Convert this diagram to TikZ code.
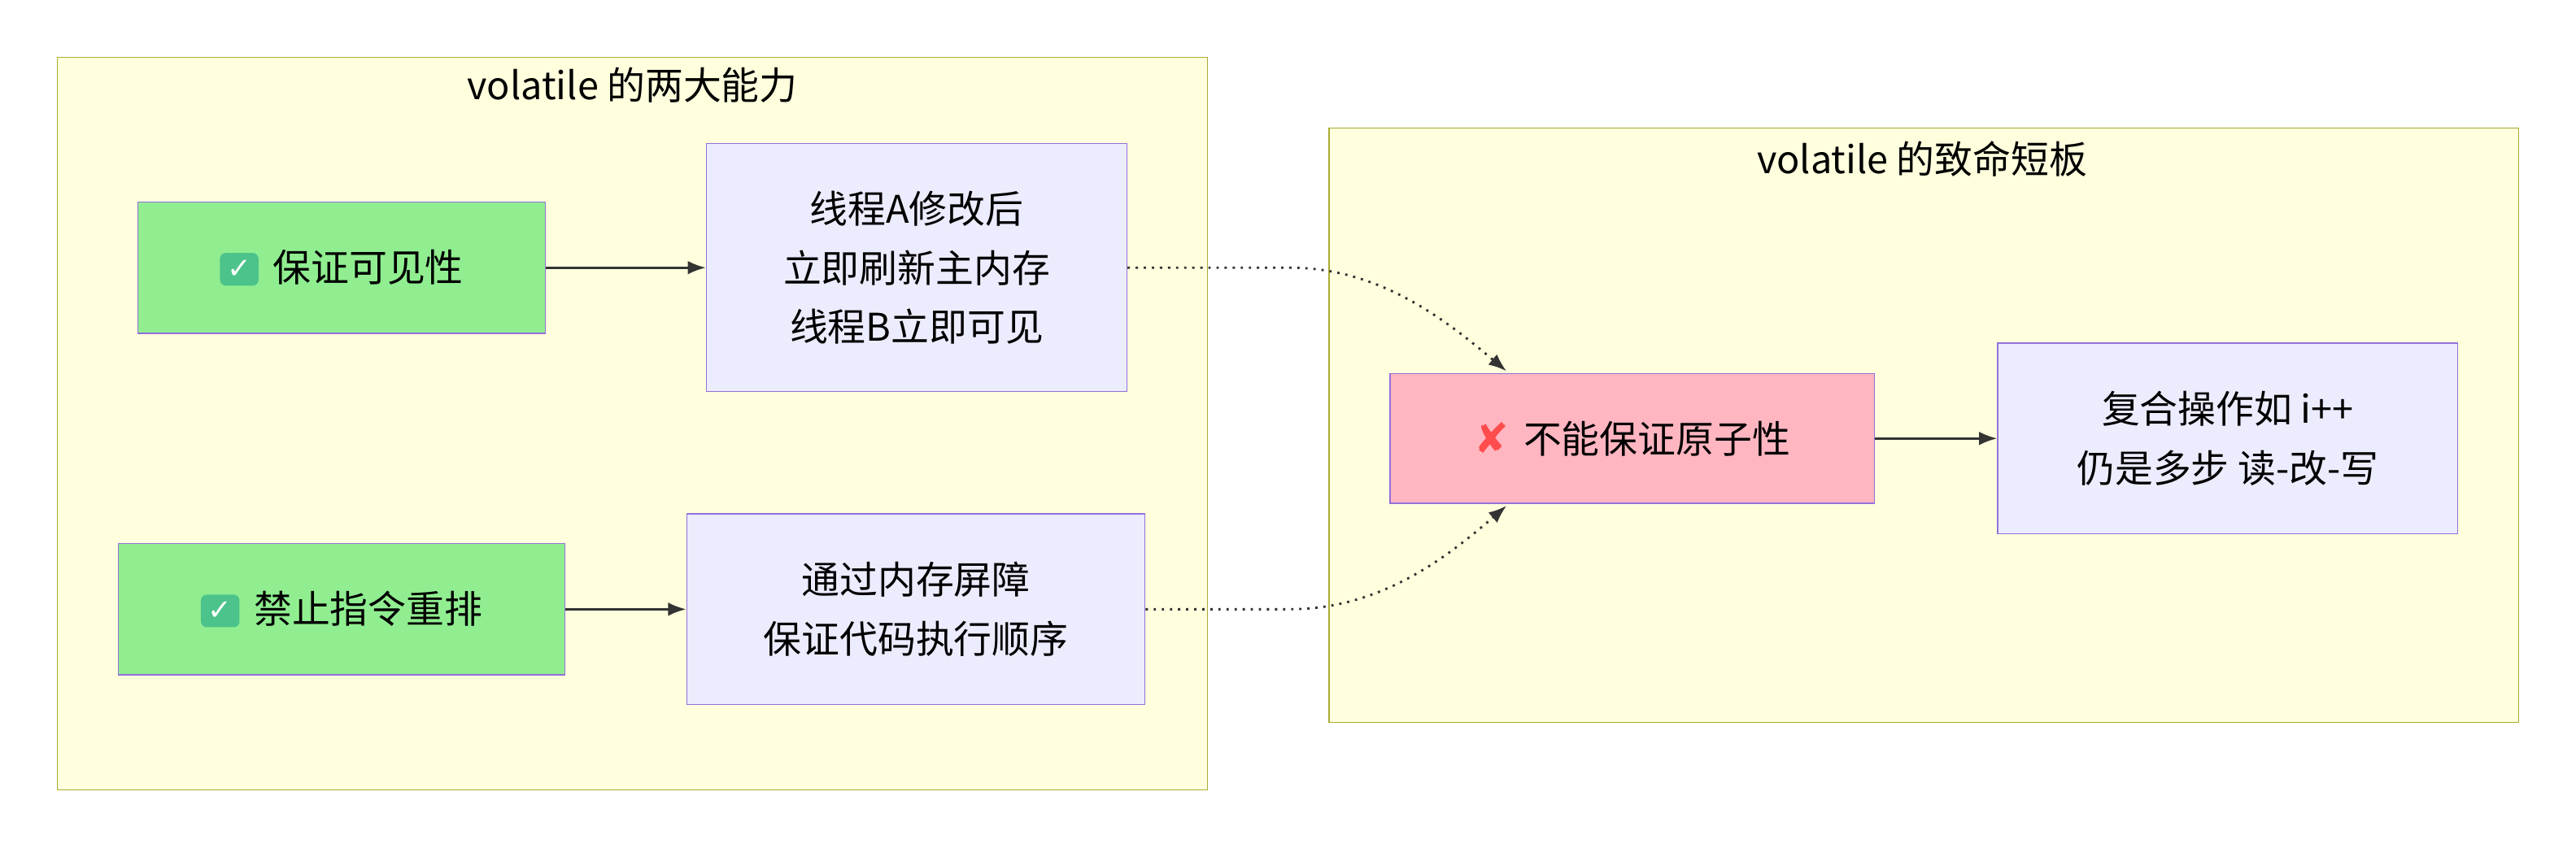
\documentclass[tikz,border=0pt]{standalone}
\usepackage{fontspec}
\setmainfont{Noto Sans CJK SC}
\newfontfamily\symfont{DejaVu Sans}
\usetikzlibrary{arrows.meta}
\definecolor{clusterfill}{HTML}{FFFFDE}
\definecolor{clusterline}{HTML}{AAAA33}
\definecolor{nodeline}{HTML}{9370DB}
\definecolor{nodefill}{HTML}{ECECFF}
\definecolor{okfill}{HTML}{90EE90}
\definecolor{badfill}{HTML}{FFB6C1}
\definecolor{linkcol}{HTML}{333333}
\definecolor{okmarkfill}{HTML}{4CC38A}
\newcommand{\okmark}{\tikz[baseline=-0.6ex]\node[fill=okmarkfill, draw=none, rounded corners=2pt, text=white, inner sep=2.5pt, minimum width=0pt, minimum height=0pt, font=\symfont\normalsize]{✓};\hspace{5pt}}
\newcommand{\badmark}{{\symfont\Large\color{red!70}✘}\hspace{5pt}}
\begin{document}
\begin{tikzpicture}[x=0.02cm, y=-0.02cm, font=\fontsize{13.2}{20.5}\selectfont]
	\tikzstyle{cluster} = [draw=clusterline, fill=clusterfill, thin];
	\tikzstyle{box} = [draw=nodeline, fill=nodefill, thin, align=center, inner sep=0pt];
	\tikzstyle{link} = [-{Latex[length=2.2mm]}, linkcol, thick];
	\tikzstyle{weak} = [-{Latex[length=2.2mm]}, linkcol, thick, dotted];

	\useasboundingbox (0,0) rectangle (1568,516);

	% clusters
	\draw[cluster] (35,35) rectangle (735,481);
	\node (t1) at (385,52) {volatile 的两大能力};
	\draw[cluster] (809,78) rectangle (1533,440);
	\node (t2) at (1170,97) {volatile 的致命短板};

	% nodes
	\node[box, fill=okfill, minimum width=4.96cm, minimum height=1.6cm] (see) at (208,163) {\okmark 保证可见性};
	\node[box, minimum width=5.12cm, minimum height=3.02cm] (flush) at (558,163) {线程A修改后\\立即刷新主内存\\线程B立即可见};
	\node[box, fill=okfill, minimum width=5.44cm, minimum height=1.6cm] (order) at (208,371) {\okmark 禁止指令重排};
	\node[box, minimum width=5.58cm, minimum height=2.32cm] (fence) at (557.5,371) {通过内存屏障\\保证代码执行顺序};
	\node[box, fill=badfill, minimum width=5.9cm, minimum height=1.58cm] (atom) at (993.5,267) {\badmark 不能保证原子性};
	\node[box, minimum width=5.6cm, minimum height=2.32cm] (rmw) at (1356,267) {复合操作如 i++\\仍是多步 读-改-写};

	\coordinate (in1) at (917,226);
	\coordinate (in2) at (917,308);

	% links
	\draw[link] (see) -- (flush);
	\draw[link] (order) -- (fence);
	\draw[link] (atom) -- (rmw);
	\draw[weak] (flush.east) -- (785,163) .. controls (840,163) and (880,195) .. (in1);
	\draw[weak] (fence.east) -- (785,371) .. controls (840,371) and (880,340) .. (in2);
\end{tikzpicture}
\end{document}
